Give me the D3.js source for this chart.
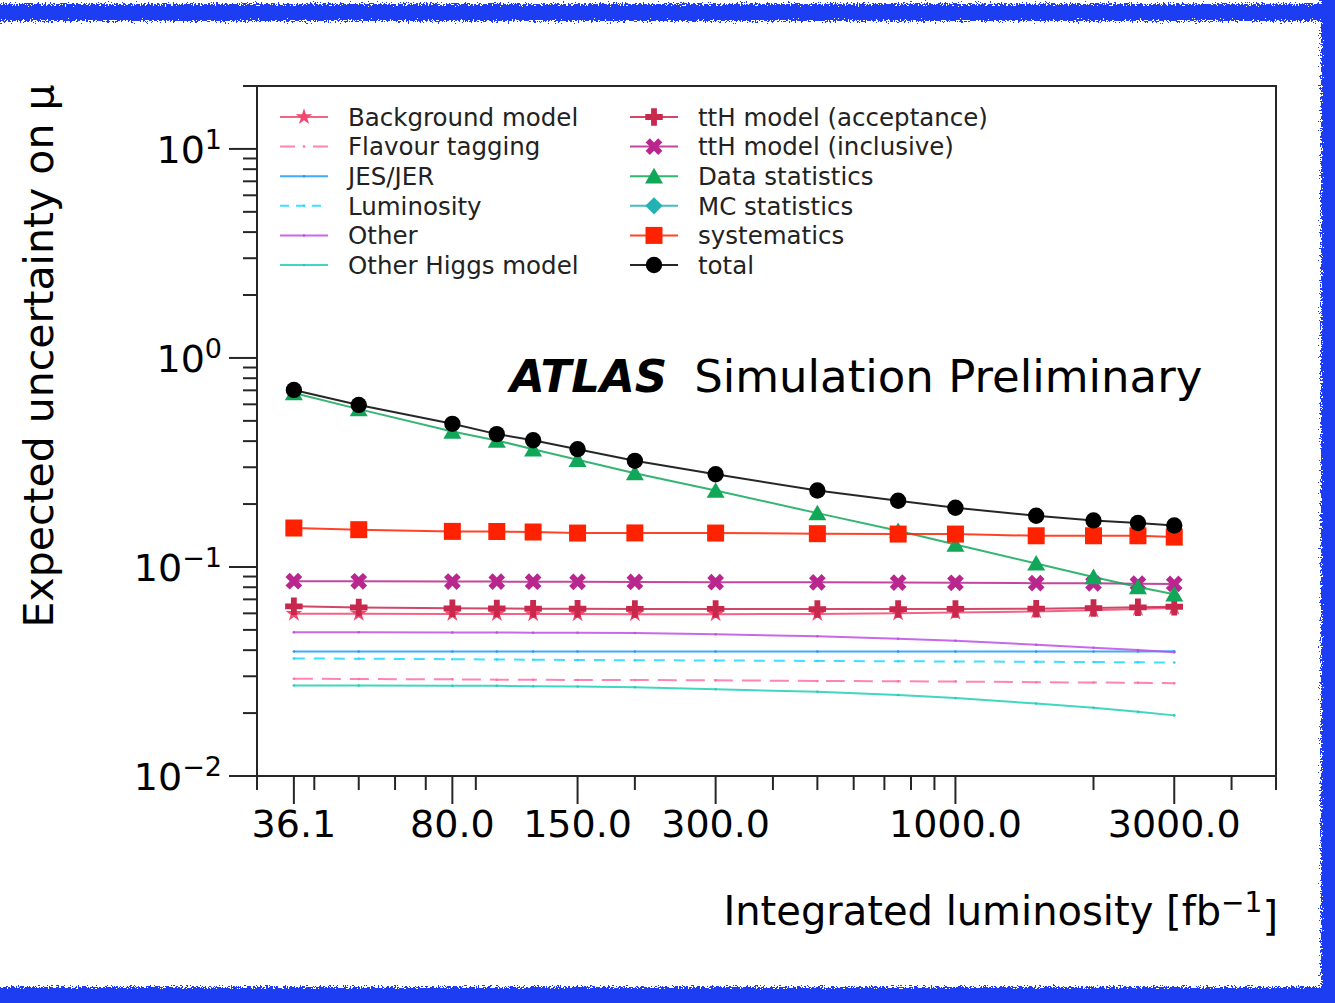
<!DOCTYPE html>
<html>
<head>
<meta charset="utf-8">
<script src="https://cdn.jsdelivr.net/npm/d3@7"></script>
<style>
  body { margin: 0; background: #fff; }
  svg { display: block; font-family: "DejaVu Sans", sans-serif; }
</style>
</head>
<body>
<svg id="chart" width="1335" height="1003"></svg>
<script>
// luminosity points (fb^-1)
const lumi = [36.1, 50, 80, 100, 120, 150, 200, 300, 500, 750, 1000, 1500, 2000, 2500, 3000];

// expected uncertainty on mu per source
const bgModel   = [0.0598, 0.0597, 0.0596, 0.0596, 0.0595, 0.0595, 0.0594, 0.0594, 0.0596, 0.0600, 0.0605, 0.0612, 0.0620, 0.0630, 0.0639];
const flavTag   = [0.0292, 0.0291, 0.0290, 0.0289, 0.0289, 0.0288, 0.0288, 0.0287, 0.0285, 0.0284, 0.0283, 0.0281, 0.0280, 0.0279, 0.0278];
const jesJer    = [0.0394, 0.0394, 0.0394, 0.0394, 0.0394, 0.0394, 0.0394, 0.0394, 0.0394, 0.0394, 0.0394, 0.0394, 0.0394, 0.0394, 0.0395];
const lumiUnc   = [0.0365, 0.0364, 0.0362, 0.0361, 0.0360, 0.0359, 0.0358, 0.0357, 0.0355, 0.0354, 0.0353, 0.0352, 0.0351, 0.0350, 0.0349];
const other     = [0.0487, 0.0487, 0.0486, 0.0486, 0.0485, 0.0484, 0.0483, 0.0476, 0.0466, 0.0454, 0.0444, 0.0425, 0.0411, 0.0401, 0.0391];
const otherHiggs = [0.0271, 0.0271, 0.0270, 0.0270, 0.0269, 0.0268, 0.0266, 0.0260, 0.0253, 0.0244, 0.0236, 0.0222, 0.0212, 0.0203, 0.0195];
const tthAcc    = [0.0648, 0.0640, 0.0634, 0.0633, 0.0632, 0.0631, 0.0630, 0.0630, 0.0629, 0.0629, 0.0630, 0.0632, 0.0636, 0.0641, 0.0645];
const tthIncl   = [0.0855, 0.0854, 0.0852, 0.0851, 0.0850, 0.0849, 0.0848, 0.0846, 0.0844, 0.0842, 0.0840, 0.0837, 0.0835, 0.0832, 0.0830];
const dataStat  = [0.680, 0.569, 0.445, 0.403, 0.366, 0.326, 0.281, 0.232, 0.181, 0.149, 0.128, 0.104, 0.0896, 0.0802, 0.0740];
const mcStat    = []; // below the plotted range
const systs     = [0.1536, 0.1508, 0.1480, 0.1478, 0.1470, 0.1453, 0.1455, 0.1453, 0.1443, 0.1437, 0.1437, 0.1410, 0.1410, 0.1410, 0.1390];
const total     = [0.703, 0.596, 0.484, 0.432, 0.404, 0.366, 0.322, 0.2776, 0.2323, 0.2074, 0.1920, 0.1758, 0.1670, 0.1623, 0.1580];

const xTicks = [36.1, 80, 150, 300, 1000, 3000];
const yTicks = [0.01, 0.1, 1, 10];
const yTickExp = ['\u22122', '\u22121', '0', '1'];

const series = [
  { name: 'Background model', values: bgModel, color: '#f4476f', marker: 'star' },
  { name: 'Flavour tagging', values: flavTag, color: '#ff6fa8', marker: 'dot', dash: '19,9', legDash: '15,18' },
  { name: 'JES/JER', values: jesJer, color: '#1e9bff', marker: 'dot' },
  { name: 'Luminosity', values: lumiUnc, color: '#1fd8ff', marker: 'dot', dash: '11,9', legDash: '9,7' },
  { name: 'Other', values: other, color: '#bf4fe6', marker: 'dot' },
  { name: 'Other Higgs model', values: otherHiggs, color: '#1fcfb6', marker: 'dot' },
  { name: 'ttH model (acceptance)', values: tthAcc, color: '#c8284c', marker: 'plus' },
  { name: 'ttH model (inclusive)', values: tthIncl, color: '#b8268e', marker: 'x' },
  { name: 'Data statistics', values: dataStat, color: '#10a858', marker: 'triangle' },
  { name: 'MC statistics', values: mcStat, color: '#22b2b4', marker: 'diamond' },
  { name: 'systematics', values: systs, color: '#ff2200', marker: 'square' },
  { name: 'total', values: total, color: '#000000', marker: 'circle' }
];

const svg = d3.select('#chart');
const W = 1335, H = 1003;
const margin = { top: 86, right: 59, bottom: 227, left: 257 };
const innerW = W - margin.left - margin.right;
const innerH = H - margin.top - margin.bottom;

svg.append('rect').attr('width', W).attr('height', H).attr('fill', '#fff');

const x = d3.scaleLog().domain([30, 5000]).range([0, innerW]);
const y = d3.scaleLog().domain([0.01, 20]).range([innerH, 0]);

const g = svg.append('g').attr('transform', `translate(${margin.left},${margin.top})`);

// clip for data
g.append('clipPath').attr('id', 'clip')
  .append('rect').attr('x', -12).attr('y', -12).attr('width', innerW + 24).attr('height', innerH + 12);

function markerPath(type) {
  switch (type) {
    case 'star': return d3.symbol(d3.symbolStar, 85)();
    case 'plus': return d3.symbol(d3.symbolCross, 170)();
    case 'x': return d3.symbol(d3.symbolCross, 175)();
    case 'triangle': return d3.symbol(d3.symbolTriangle, 140)();
    case 'diamond': return d3.symbol(d3.symbolSquare, 150)();
    case 'square': return d3.symbol(d3.symbolSquare, 289)();
    case 'circle': return d3.symbol(d3.symbolCircle, 210)();
    default: return d3.symbol(d3.symbolCircle, 5)();
  }
}
function markerRot(type) {
  if (type === 'x' || type === 'diamond') return 45;
  return 0;
}

const line = d3.line().x((d, i) => x(lumi[i])).y(d => y(d));

const plot = g.append('g').attr('clip-path', 'url(#clip)');
series.forEach(s => {
  if (!s.values.length) return;
  plot.append('path')
    .attr('d', line(s.values))
    .attr('fill', 'none')
    .attr('stroke', s.color)
    .attr('stroke-width', 2)
    .attr('stroke-opacity', 0.85)
    .attr('stroke-dasharray', s.dash || null);
  plot.selectAll(null).data(s.values).enter()
    .append('path')
    .attr('d', markerPath(s.marker))
    .attr('transform', (d, i) => {
      const ty = s.marker === 'triangle' ? 2 : 0;
      return `translate(${x(lumi[i])},${y(d) + ty}) rotate(${markerRot(s.marker)})`;
    })
    .attr('fill', s.color);
});

// frame
const axisColor = '#262626';
g.append('rect').attr('width', innerW).attr('height', innerH)
  .attr('fill', 'none').attr('stroke', axisColor).attr('stroke-width', 2);

// x ticks
const xMinor = [];
[10, 100, 1000].forEach(dec => {
  for (let k = 2; k <= 9; k++) {
    const v = k * dec;
    if (v >= 30 && v <= 5000 && !xTicks.includes(v)) xMinor.push(v);
  }
});
g.append('g').selectAll('line').data(xMinor).enter().append('line')
  .attr('x1', d => x(d)).attr('x2', d => x(d))
  .attr('y1', innerH).attr('y2', innerH + 14)
  .attr('stroke', axisColor).attr('stroke-width', 2);
const xt = g.append('g').selectAll('g').data(xTicks).enter().append('g')
  .attr('transform', d => `translate(${x(d)},${innerH})`);
xt.append('line').attr('y2', 28).attr('stroke', axisColor).attr('stroke-width', 2);
xt.append('text')
  .attr('y', 61)
  .attr('text-anchor', 'middle')
  .style('font-size', '38px')
  .attr('fill', '#000')
  .text(d => d3.format('.1f')(d));

// y ticks
const yMinor = [];
[0.01, 0.1, 1, 10].forEach(dec => {
  for (let k = 2; k <= 9; k++) {
    const v = k * dec;
    if (v <= 20.001) yMinor.push(v);
  }
});
g.append('g').selectAll('line').data(yMinor).enter().append('line')
  .attr('y1', d => y(d)).attr('y2', d => y(d))
  .attr('x1', -14).attr('x2', 0)
  .attr('stroke', axisColor).attr('stroke-width', 2);
const yt = g.append('g').selectAll('g').data(yTicks).enter().append('g')
  .attr('transform', d => `translate(0,${y(d)})`);
yt.append('line').attr('x1', -28).attr('stroke', axisColor).attr('stroke-width', 2);
const ytxt = yt.append('text')
  .attr('x', -35)
  .attr('dy', '0.36em')
  .attr('text-anchor', 'end')
  .style('font-size', '38px')
  .attr('fill', '#000');
ytxt.append('tspan').text('10');
ytxt.append('tspan')
  .attr('dy', '-0.5em')
  .style('font-size', '27px')
  .text((d, i) => yTickExp[i]);

// axis titles
svg.append('text')
  .attr('transform', `translate(53,356) rotate(-90)`)
  .attr('text-anchor', 'middle')
  .style('font-size', '41px')
  .attr('fill', '#000')
  .text('Expected uncertainty on \u03bc');

const xl = svg.append('text')
  .attr('x', 1278).attr('y', 925)
  .attr('text-anchor', 'end')
  .style('font-size', '40px')
  .attr('fill', '#000');
xl.append('tspan').text('Integrated luminosity [fb');
xl.append('tspan').attr('dy', '-0.45em').style('font-size', '28px').text('\u22121');
xl.append('tspan').attr('dy', '0.45em').text(']');

// ATLAS label
const atl = svg.append('text').attr('x', 510).attr('y', 392).style('font-size', '45px').attr('fill', '#000');
atl.append('tspan').style('font-weight', 'bold').style('font-style', 'italic').text('ATLAS');
atl.append('tspan').attr('dx', '0.6em').text('Simulation Preliminary');

// legend, two columns of six
const legend = svg.append('g');
series.forEach((s, i) => {
  const col = Math.floor(i / 6), row = i % 6;
  const lx = col === 0 ? 280 : 630;
  const ly = 117 + row * 29.6;
  const item = legend.append('g').attr('transform', `translate(${lx},${ly})`);
  item.append('line').attr('x1', 0).attr('x2', 48)
    .attr('stroke', s.color).attr('stroke-width', 2).attr('stroke-opacity', 0.85)
    .attr('stroke-dasharray', s.legDash || null);
  item.append('path')
    .attr('d', markerPath(s.marker))
    .attr('transform', `translate(24,${s.marker === 'triangle' ? 2 : 0}) rotate(${markerRot(s.marker)})`)
    .attr('fill', s.color);
  item.append('text')
    .attr('x', 68).attr('dy', '0.36em')
    .style('font-size', '24.5px')
    .attr('fill', '#222')
    .text(s.name);
});

// rough blue frame around the picture
const defs = svg.append('defs');
const f = defs.append('filter').attr('id', 'rough')
  .attr('x', '-5%').attr('y', '-5%').attr('width', '110%').attr('height', '110%');
f.append('feTurbulence').attr('type', 'fractalNoise').attr('baseFrequency', '0.6').attr('numOctaves', 2).attr('seed', 3).attr('result', 'noise');
f.append('feDisplacementMap').attr('in', 'SourceGraphic').attr('in2', 'noise').attr('scale', 10)
  .attr('xChannelSelector', 'R').attr('yChannelSelector', 'G');
const frame = svg.append('g').attr('filter', 'url(#rough)').attr('fill', '#1c3cf2');
frame.append('rect').attr('x', -10).attr('y', 4).attr('width', W + 20).attr('height', 17);
frame.append('rect').attr('x', 1321).attr('y', -10).attr('width', 30).attr('height', H + 20);
frame.append('rect').attr('x', -10).attr('y', 987).attr('width', W + 20).attr('height', 30);
</script>
</body>
</html>
